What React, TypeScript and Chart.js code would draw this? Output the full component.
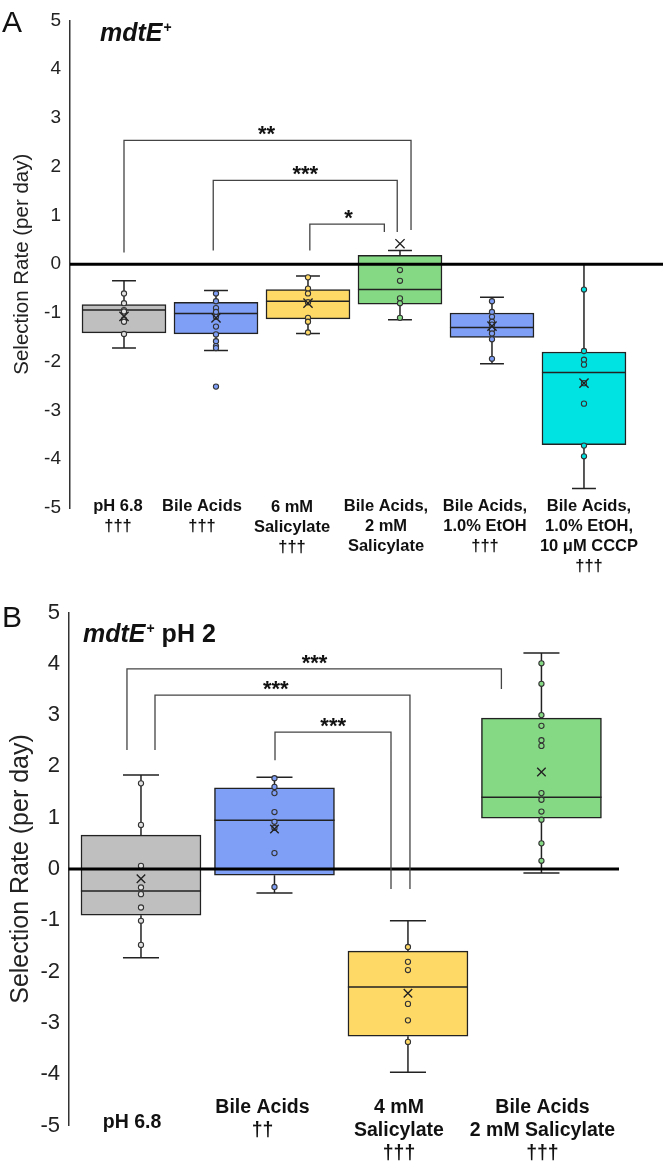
import React, { useEffect, useRef } from 'react';
import { Chart, registerables } from 'chart.js';

Chart.register(...registerables);

const FONT = '"Liberation Sans", Arial, Helvetica, sans-serif';

// ---------------- Panel A data ----------------
const categoriesA = [
  ['pH 6.8', '†††'],
  ['Bile Acids', '†††'],
  ['6 mM', 'Salicylate', '†††'],
  ['Bile Acids,', '2 mM', 'Salicylate'],
  ['Bile Acids,', '1.0% EtOH', '†††'],
  ['Bile Acids,', '1.0% EtOH,', '10 μM CCCP', '†††'],
];
const q1A = [-1.41, -1.43, -1.12, -0.82, -1.5, -3.7];
const medianA = [-0.94, -1.01, -0.76, -0.52, -1.3, -2.22];
const q3A = [-0.83, -0.78, -0.52, 0.18, -1.0, -1.8];
const whiskerLowA = [-1.72, -1.77, -1.42, -1.14, -2.04, -4.6];
const whiskerHighA = [-0.34, -0.54, -0.24, 0.28, -0.68, 0.0];
const meanA = [-1.07, -1.1, -0.8, 0.42, -1.27, -2.44];
const pointsA = [
  [-0.6, -0.8, -0.94, -0.97, -1.13, -1.18, -1.43],
  [-0.6, -0.76, -0.9, -0.98, -1.08, -1.28, -1.44, -1.58, -1.68, -1.72, -2.51],
  [-0.27, -0.5, -0.6, -0.78, -1.1, -1.18, -1.4],
  [-0.12, -0.34, -0.7, -0.8, -1.1],
  [-0.76, -0.98, -1.08, -1.18, -1.24, -1.34, -1.42, -1.54, -1.94],
  [-0.52, -1.78, -1.96, -2.06, -2.44, -2.86, -3.72, -3.94],
];
const boxColorsA = ['#bfbfbf', '#7f9ff7', '#ffd966', '#85d985', '#7f9ff7', '#00e3e3'];
const pointColorsA = ['#e2e2e2', '#7f9ff7', '#ffd966', '#85d985', '#7f9ff7', '#00e3e3'];
const bracketFromA = [0, 0.97, 2.02];
const bracketToA = [3.12, 2.97, 2.83];
const bracketLevelA = [2.54, 1.72, 0.82];
const bracketFromEndA = [0.24, 0.28, 0.28];
const bracketToEndA = [0.7, 0.66, 0.66];
const bracketLabelA = ['**', '***', '*'];
const bracketLabelAtA = [1.55, 1.97, 2.44];

// ---------------- Panel B data ----------------
const categoriesB = [
  ['pH 6.8'],
  ['Bile Acids', '††'],
  ['4 mM', 'Salicylate', '†††'],
  ['Bile Acids', '2 mM Salicylate', '†††'],
];
const q1B = [-0.9, -0.12, -3.26, 0.99];
const medianB = [-0.43, 0.95, -2.3, 1.4];
const q3B = [0.66, 1.58, -1.6, 2.94];
const whiskerLowB = [-1.73, -0.47, -3.96, -0.08];
const whiskerHighB = [1.83, 1.79, -1.01, 4.21];
const meanB = [-0.19, 0.78, -2.42, 1.89];
const pointsB = [
  [1.67, 0.86, 0.06, -0.36, -0.49, -0.75, -1.01, -1.48],
  [1.77, 1.6, 1.48, 1.11, 0.92, 0.8, 0.31, -0.35],
  [-1.52, -1.81, -1.97, -2.63, -2.95, -3.37],
  [4.01, 3.61, 3.0, 2.79, 2.51, 2.4, 1.48, 1.35, 1.12, 0.96, 0.5, 0.16],
];
const boxColorsB = ['#bfbfbf', '#7f9ff7', '#ffd966', '#85d985'];
const pointColorsB = ['#e2e2e2', '#7f9ff7', '#ffd966', '#85d985'];
const bracketFromB = [-0.105, 0.105, 1.004];
const bracketToB = [2.7, 2.015, 1.873];
const bracketLevelB = [3.9, 3.39, 2.67];
const bracketFromEndB = [2.32, 2.32, 2.12];
const bracketToEndB = [3.51, -0.39, -0.39];
const bracketLabelB = ['***', '***', '***'];
const bracketLabelAtB = [1.3, 1.01, 1.44];

const yMin = -5;
const yMax = 5;
const yTitle = 'Selection Rate (per day)';

// ---------------- geometry / style (not data) ----------------
const geomA = {
  top: 0, height: 578, padTop: 8, xHeight: 70, padRight: 3, yWidth: 70,
  xMin: -0.587, xMax: 5.859, boxPx: 84, boxHalf: 0.457, capHalf: 0.13,
  tickFont: 19, tickPad: 9, titleFont: 20.5, titlePad: 10.5,
  labelFont: 16.5, labelLH: 20.3, labelFirst: -2,
  labelNudgeX: [-6, -14, -16, -14, -7, 5], labelNudgeY: [0, 0, 1, 0, 0, 0],
  meanR: 6.5, letter: 'A', letterY: 32, titleX: 100, titleY: 41, extra: '',
};
const geomB = {
  top: 578, height: 588, padTop: 34.5, xHeight: 40.5, padRight: 47, yWidth: 68.5,
  xMin: -0.543, xMax: 3.581, boxPx: 120, boxHalf: 0.45, capHalf: 0.135,
  tickFont: 22, tickPad: 8.5, titleFont: 25, titlePad: 6,
  labelFont: 19.5, labelLH: 23, labelFirst: -17.5,
  labelNudgeX: [-9, -12, -9, 1], labelNudgeY: [15, 0, 0, 0],
  meanR: 6, letter: 'B', letterY: 49, titleX: 83, titleY: 64, extra: 'pH 2',
};

type Panel = {
  cats: string[][]; q1: number[]; med: number[]; q3: number[]; lo: number[]; hi: number[];
  mean: number[]; pts: number[][]; box: string[]; ptc: string[];
  bFrom: number[]; bTo: number[]; bLevel: number[]; bFromEnd: number[]; bToEnd: number[];
  bLabel: string[]; bLabelAt: number[];
};

const panelA: Panel = {
  cats: categoriesA, q1: q1A, med: medianA, q3: q3A, lo: whiskerLowA, hi: whiskerHighA,
  mean: meanA, pts: pointsA, box: boxColorsA, ptc: pointColorsA,
  bFrom: bracketFromA, bTo: bracketToA, bLevel: bracketLevelA, bFromEnd: bracketFromEndA,
  bToEnd: bracketToEndA, bLabel: bracketLabelA, bLabelAt: bracketLabelAtA,
};
const panelB: Panel = {
  cats: categoriesB, q1: q1B, med: medianB, q3: q3B, lo: whiskerLowB, hi: whiskerHighB,
  mean: meanB, pts: pointsB, box: boxColorsB, ptc: pointColorsB,
  bFrom: bracketFromB, bTo: bracketToB, bLevel: bracketLevelB, bFromEnd: bracketFromEndB,
  bToEnd: bracketToEndB, bLabel: bracketLabelB, bLabelAt: bracketLabelAtB,
};

function buildConfig(p: Panel, g: typeof geomA): any {
  const n = p.q1.length;
  const boxes = p.q1.map((_, i) => ({ x: i, y: [p.q1[i], p.q3[i]] }));
  const whiskers: any[] = [];
  const caps: any[] = [];
  const medians: any[] = [];
  for (let i = 0; i < n; i++) {
    whiskers.push({ x: i, y: p.q3[i] }, { x: i, y: p.hi[i] }, { x: i, y: null });
    whiskers.push({ x: i, y: p.q1[i] }, { x: i, y: p.lo[i] }, { x: i, y: null });
    caps.push({ x: i - g.capHalf, y: p.hi[i] }, { x: i + g.capHalf, y: p.hi[i] }, { x: i, y: null });
    caps.push({ x: i - g.capHalf, y: p.lo[i] }, { x: i + g.capHalf, y: p.lo[i] }, { x: i, y: null });
    medians.push({ x: i - g.boxHalf, y: p.med[i] }, { x: i + g.boxHalf, y: p.med[i] }, { x: i, y: null });
  }
  const pts: any[] = [];
  const ptFill: string[] = [];
  p.pts.forEach((arr, i) => arr.forEach((v) => { pts.push({ x: i, y: v }); ptFill.push(p.ptc[i]); }));
  const means = p.mean.map((m, i) => ({ x: i, y: m }));

  const lineBase = {
    type: 'line', borderColor: '#222', borderWidth: 1.5, pointRadius: 0,
    spanGaps: false, fill: false, tension: 0,
  };

  const annot = {
    id: 'annot',
    afterDatasetsDraw(chart: any) {
      const { ctx, chartArea, scales } = chart;
      const y0 = scales.y.getPixelForValue(0);
      ctx.save();
      ctx.strokeStyle = '#000';
      ctx.lineWidth = 3;
      ctx.beginPath();
      ctx.moveTo(chartArea.left, y0);
      ctx.lineTo(chartArea.right, y0);
      ctx.stroke();
      ctx.restore();
    },
    afterDraw(chart: any) {
      const { ctx, scales, chartArea } = chart;
      const xs = scales.x, ys = scales.y;
      ctx.save();
      ctx.strokeStyle = '#444';
      ctx.lineWidth = 1.3;
      for (let i = 0; i < p.bFrom.length; i++) {
        const xl = xs.getPixelForValue(p.bFrom[i]);
        const xr = xs.getPixelForValue(p.bTo[i]);
        const yt = ys.getPixelForValue(p.bLevel[i]);
        ctx.beginPath();
        ctx.moveTo(xl, ys.getPixelForValue(p.bFromEnd[i]));
        ctx.lineTo(xl, yt);
        ctx.lineTo(xr, yt);
        ctx.lineTo(xr, ys.getPixelForValue(p.bToEnd[i]));
        ctx.stroke();
        ctx.fillStyle = '#111';
        ctx.font = `bold 22px ${FONT}`;
        ctx.textAlign = 'center';
        ctx.textBaseline = 'alphabetic';
        ctx.fillText(p.bLabel[i], xs.getPixelForValue(p.bLabelAt[i]), yt + 1);
      }
      // category labels, placed with the x scale
      ctx.fillStyle = '#111';
      ctx.font = `bold ${g.labelFont}px ${FONT}`;
      ctx.textAlign = 'center';
      ctx.textBaseline = 'middle';
      p.cats.forEach((lines, i) => {
        const cx = xs.getPixelForValue(i) + g.labelNudgeX[i];
        lines.forEach((line, k) => {
          ctx.fillText(line, cx, chartArea.bottom + g.labelFirst + g.labelNudgeY[i] + k * g.labelLH);
        });
      });
      // panel letter
      ctx.textBaseline = 'alphabetic';
      ctx.textAlign = 'left';
      ctx.font = `30px ${FONT}`;
      ctx.fillText(g.letter, 2, g.letterY);
      // panel title
      let x = g.titleX;
      ctx.font = `italic bold 25px ${FONT}`;
      ctx.fillText('mdtE', x, g.titleY);
      x += ctx.measureText('mdtE').width + 1;
      ctx.font = `bold 14px ${FONT}`;
      ctx.fillText('+', x, g.titleY - 9);
      x += ctx.measureText('+').width;
      if (g.extra) {
        ctx.font = `bold 25px ${FONT}`;
        ctx.fillText(' ' + g.extra, x, g.titleY);
      }
      ctx.restore();
    },
  };

  return {
    type: 'bar',
    data: {
      datasets: [
        {
          type: 'bar', data: boxes, backgroundColor: p.box, borderColor: '#222',
          borderWidth: 1.5, borderSkipped: false, barThickness: g.boxPx, order: 5,
        },
        { ...lineBase, data: whiskers, order: 4 },
        { ...lineBase, data: caps, order: 4 },
        { ...lineBase, data: medians, order: 3 },
        {
          type: 'line', data: pts, showLine: false, pointRadius: 2.6, pointBorderWidth: 1.1,
          pointBackgroundColor: ptFill, pointBorderColor: '#333', order: 2,
        },
        {
          type: 'line', data: means, showLine: false, pointStyle: 'crossRot', pointRadius: g.meanR,
          pointBorderWidth: 1.4, pointBorderColor: '#222', order: 1,
        },
      ],
    },
    options: {
      responsive: false,
      animation: false,
      events: [],
      layout: { autoPadding: false, padding: { top: g.padTop, right: g.padRight, bottom: 0, left: 0 } },
      plugins: { legend: { display: false }, tooltip: { enabled: false }, title: { display: false } },
      scales: {
        x: {
          type: 'linear', min: g.xMin, max: g.xMax, offset: false,
          grid: { display: false, drawTicks: false, tickLength: 0, offset: false },
          border: { display: false },
          afterBuildTicks: (s: any) => { s.ticks = p.cats.map((_, i) => ({ value: i })); },
          afterFit: (s: any) => { s.height = g.xHeight; },
          ticks: { display: false },
        },
        y: {
          type: 'linear', min: yMin, max: yMax, beginAtZero: false,
          grid: { display: false, drawTicks: false, tickLength: 0 },
          border: { display: true, color: '#333', width: 1.5 },
          afterFit: (s: any) => { s.width = g.yWidth; },
          ticks: {
            stepSize: 1, padding: g.tickPad, color: '#222',
            font: { family: FONT, size: g.tickFont },
            callback: (v: any) => String(v),
          },
          title: {
            display: true, text: yTitle, color: '#222',
            font: { family: FONT, size: g.titleFont },
            padding: { top: g.titlePad, bottom: 0 },
          },
        },
      },
    },
    plugins: [annot],
  };
}

function PanelChart({ panel, geom }: { panel: Panel; geom: typeof geomA }) {
  const ref = useRef<HTMLCanvasElement>(null);
  useEffect(() => {
    const chart = new Chart(ref.current as HTMLCanvasElement, buildConfig(panel, geom));
    return () => chart.destroy();
  }, []);
  return (
    <canvas
      ref={ref}
      width={666}
      height={geom.height}
      style={{ position: 'absolute', left: 0, top: geom.top, width: 666, height: geom.height, display: 'block' }}
    />
  );
}

export default function App() {
  return (
    <div style={{ position: 'absolute', left: 0, top: 0, width: 666, height: 1166, background: '#fff', overflow: 'hidden' }}>
      <PanelChart panel={panelA} geom={geomA} />
      <PanelChart panel={panelB} geom={geomB} />
    </div>
  );
}
